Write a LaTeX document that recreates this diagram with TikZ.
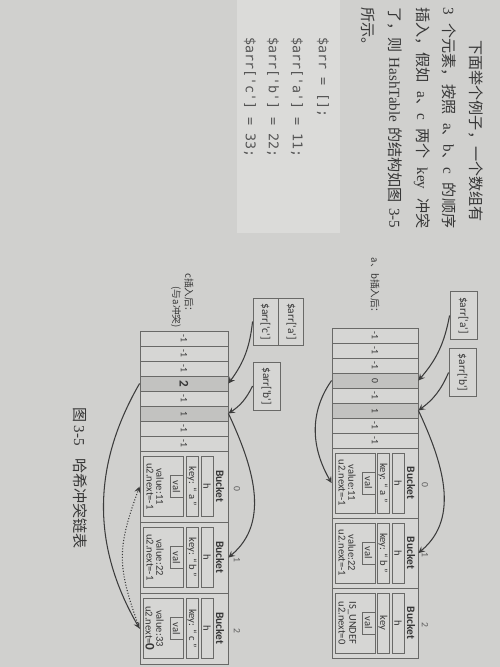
\documentclass[tikz,border=0pt]{standalone}
\usepackage{fontspec}
\setmainfont{Liberation Serif}
\newfontfamily\cjk{Noto Sans CJK SC}
\newfontfamily\diafont{Carlito}
\newfontfamily\codefont{DejaVu Sans Mono}
\usetikzlibrary{arrows, calc, positioning}
\definecolor{paper}{RGB}{208,208,206}
\definecolor{codebg}{RGB}{219,219,217}
\definecolor{cellfill}{RGB}{214,214,212}
\definecolor{hotfill}{RGB}{194,194,192}
\definecolor{linegray}{RGB}{105,105,103}
\definecolor{inkgray}{RGB}{55,55,55}
\definecolor{arrowgray}{RGB}{60,60,60}

\XeTeXlinebreaklocale "zh"
\XeTeXlinebreakskip=0pt plus 1pt

\newcommand{\lat}[1]{{\rmfamily #1}}
\newcommand{\hl}[1]{{\bfseries\fontsize{7.5}{8}\selectfont #1}}

\tikzset{
  para/.style={anchor=west, inner sep=0pt, text=inkgray, font=\cjk\fontsize{8.6}{10}\selectfont},
  code/.style={anchor=west, inner sep=0pt, text=inkgray!85, font=\codefont\fontsize{7.6}{9}\selectfont},
  lab/.style={inner sep=0pt, text=inkgray, font=\cjk\fontsize{5.5}{6}\selectfont},
  cell/.style={draw=linegray, line width=0.5pt, inner sep=0pt},
  slot/.style={cell, minimum width=0.3cm, text=inkgray, font=\diafont\fontsize{5.5}{6}\selectfont},
  bucket/.style={cell, fill=cellfill, minimum width=1.4cm},
  field/.style={cell, minimum width=1.2cm, minimum height=0.24cm, text=inkgray, font=\diafont\fontsize{6}{7}\selectfont},
  valbox/.style={cell, minimum width=1.2cm, minimum height=0.8cm},
  tag/.style={cell, anchor=north, minimum width=0.44cm, minimum height=0.26cm, text=inkgray, font=\diafont\fontsize{6}{7}\selectfont},
  txt/.style={inner sep=0pt, text=inkgray, font=\diafont\fontsize{6}{7}\selectfont},
  title/.style={inner sep=0pt, text=inkgray, font=\diafont\bfseries\fontsize{6.5}{7}\selectfont},
  idx/.style={inner sep=0pt, text=inkgray!80, font=\diafont\fontsize{5.5}{6}\selectfont},
  refbox/.style={cell, fill=cellfill, minimum width=0.96cm, minimum height=0.54cm, text=inkgray, font=\diafont\fontsize{6.5}{7}\selectfont},
  ptr/.style={draw=arrowgray, line width=0.6pt, -stealth},
  nextlink/.style={ptr, densely dotted},
}

\begin{document}
\begin{tikzpicture}[x=0.02cm, y=0.02cm]
\begin{scope}[rotate=-90, transform shape]
  \useasboundingbox (0,0) rectangle (667,500);
  \fill[paper] (0,0) rectangle (667,500);
  \fill[codebg] (0,237) rectangle (233,340);

  % page text
  \node[para] (line1) at (40,476) {\hbox to 3.76cm{下面举个例子，一个数组有}};
  \node[para] (line2) at (7,449) {\hbox to 4.42cm{\lat{3} 个元素，按照 \lat{a}、\lat{b}、\lat{c} 的顺序}};
  \node[para] (line3) at (7,422) {\hbox to 4.42cm{插入，假如 \lat{a}、\lat{c} 两个 \lat{key} 冲突}};
  \node[para] (line4) at (7,395) {\hbox to 4.42cm{了，则 \lat{HashTable} 的结构如图 \lat{3-5}}};
  \node[para] (line5) at (7,368) {所示。};

  \node[code] (code1) at (37,323) {\$arr = [];};
  \node[code] (code2) at (37,297) {\$arr['a'] = 11;};
  \node[code] (code3) at (37,273) {\$arr['b'] = 22;};
  \node[code] (code4) at (37,250) {\$arr['c'] = 33;};

  % after a, b
  \node[lab, anchor=east] (a-lab) at (318,375) {a、b插入后：};
  \foreach \i/\v/\c in {0/-1/cellfill, 1/-1/cellfill, 2/-1/cellfill, 3/0/hotfill,
                        4/-1/cellfill, 5/1/hotfill, 6/-1/cellfill, 7/-1/cellfill}
    \node[slot, minimum height=1.72cm, fill=\c] (a-slot\i) at (335.5+15*\i,375) {\v};
  \foreach \k/\key/\val/\nxt in {0/{key: “ a ”}/value:11/u2.next=-1,
                                 1/{key: “ b ”}/value:22/u2.next=-1,
                                 2/key/IS\_UNDEF/u2.next=0} {
    \node[bucket, minimum height=1.72cm] (a-buck\k) at (483+70*\k,375) {};
    \node[title] (a-title\k) at (483+70*\k,411) {Bucket};
    \node[field] (a-h\k) at (483+70*\k,398) {h};
    \node[field] (a-key\k) at (483+70*\k,383) {\key};
    \node[valbox] (a-val\k) at (483+70*\k,355) {};
    \node[tag] (a-tag\k) at (a-val\k.north) {val};
    \node[txt] (a-value\k) at (483+70*\k,352) {\val};
    \node[txt] (a-next\k) at (483+70*\k,342) {\nxt};
    \node[idx] (a-idx\k) at (485+70*\k,425) {\k};
  }
  \node[refbox] (a-ref-a) at (315.5,463.5) {\$arr['a']};
  \node[refbox] (a-ref-b) at (372.5,462.5) {\$arr['b']};

  \draw[ptr] (a-ref-a.south) to[bend left=15] (a-slot3.north);
  \draw[ptr] (a-ref-b.south) to[bend left=15] (a-slot5.north);
  \draw[ptr] (a-slot3.south) to[out=-35, in=-150] (a-buck0.south);
  \draw[ptr] (a-slot5.north) to[out=25, in=130] (a-buck1.north);

  % after c
  \node[lab, anchor=east] (b-lab1) at (317,189) {c插入后：};
  \node[lab, anchor=east] (b-lab2) at (328,176) {(与a冲突)};
  \foreach \i/\v/\c in {0/-1/cellfill, 1/-1/cellfill, 2/-1/cellfill, 3/{\hl{2}}/hotfill,
                        4/-1/cellfill, 5/1/hotfill, 6/-1/cellfill, 7/-1/cellfill}
    \node[slot, minimum height=1.76cm, fill=\c] (b-slot\i) at (338.5+15*\i,184) {\v};
  \foreach \k/\key/\val/\nxt in {0/{key: “ a ”}/value:11/u2.next=-1,
                                 1/{key: “ b ”}/value:22/u2.next=-1,
                                 2/{key: “ c ”}/value:33/{u2.next=\hl{0}}} {
    \node[bucket, minimum width=1.42cm, minimum height=1.76cm] (b-buck\k) at (486.5+71*\k,184) {};
    \node[title] (b-title\k) at (486.5+71*\k,220) {Bucket};
    \node[field] (b-h\k) at (486.5+71*\k,207) {h};
    \node[field] (b-key\k) at (486.5+71*\k,192) {\key};
    \node[valbox] (b-val\k) at (486.5+71*\k,163) {};
    \node[tag] (b-tag\k) at (b-val\k.north) {val};
    \node[txt] (b-value\k) at (486.5+71*\k,160) {\val};
    \node[txt] (b-next\k) at (486.5+71*\k,150) {\nxt};
    \node[idx] (b-idx\k) at (488.5+71*\k,237) {\k};
  }
  \node[refbox, minimum width=0.94cm, minimum height=0.5cm] (b-ref-c) at (321.5,265.5) {\$arr['c']};
  \node[refbox, minimum width=0.94cm, minimum height=0.5cm, anchor=south] (b-ref-a) at (b-ref-c.north) {\$arr['a']};
  \node[refbox] (b-ref-b) at (386,266.5) {\$arr['b']};

  \draw[ptr] (b-ref-c.south) to[bend left=15] (b-slot3.north);
  \draw[ptr] (b-ref-b.south) to[bend left=15] (b-slot5.north);
  \draw[ptr] (b-slot5.north) to[out=25, in=130] (b-buck1.north);
  \draw[ptr] (b-slot3.south) to[out=-30, in=-150] (b-buck2.south);
  \draw[nextlink] (b-buck2.south) to[out=200, in=-20, looseness=1.2] (b-buck0.south);

  \node[para] (caption) at (407,80) {图 \lat{3-5}\hspace{0.8em}哈希冲突链表};
\end{scope}
\end{tikzpicture}
\end{document}
